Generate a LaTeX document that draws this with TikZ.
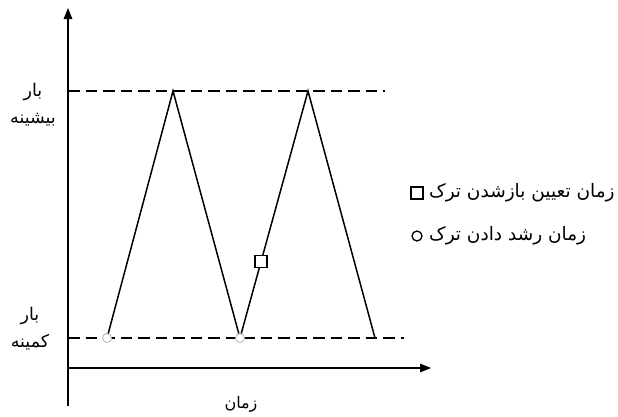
\documentclass[tikz,border=0pt]{standalone}
\usepackage{fontspec}
\TeXXeTstate=1
\newfontfamily\arabicfont[Script=Arabic]{DejaVu Sans}
\usetikzlibrary{arrows.meta,calc}
\tikzset{
  axis/.style={line width=1.6pt,-{Triangle[length=11pt,width=8.5pt]}},
  guide/.style={line width=1.5pt,dash pattern=on 11.5pt off 6pt},
  zig/.style={line width=1.5pt},
  circmark/.style={circle,draw=gray!60,fill=white,line width=0.8pt,inner sep=0pt,minimum size=9pt},
  sqmark/.style={rectangle,draw=black,fill=white,line width=1.3pt,inner sep=0pt,minimum size=12pt},
  lab/.style={font=\arabicfont\fontsize{17.5}{27}\selectfont,align=center,inner sep=1pt},
  leglab/.style={font=\arabicfont\fontsize{18.5}{22}\selectfont,inner sep=1pt,anchor=west},
}
\begin{document}
\begin{tikzpicture}[x=1pt,y=-1pt]
\useasboundingbox (0,0) rectangle (618,416);
% axes
\coordinate (o) at (68,406);
\coordinate (ytop) at (68,8);
\coordinate (hx0) at (68,368);
\coordinate (hx1) at (431,368);
\draw[axis] (o) -- (ytop);
\draw[axis] (hx0) -- (hx1);
% guides
\coordinate (u0) at (68,91);
\coordinate (u1) at (385,91);
\coordinate (l0) at (68,338);
\coordinate (l1) at (404,338);
\draw[guide] (u0) -- (u1);
\draw[guide] (l0) -- (l1);
% zigzag
\coordinate (p1) at (107,338);
\coordinate (p2) at (173,91);
\coordinate (p3) at (240,338);
\coordinate (p4) at (308,91);
\coordinate (p5) at (375,338);
\draw[zig] (p1) -- (p2) -- (p3) -- (p4) -- (p5);
\node[circmark] (c1) at (p1) {};
\node[circmark] (c2) at (p3) {};
\node[sqmark] (s1) at ($(p3)!0.31!(p4)$) {};
% labels
\node[lab] (maxlab) at (33,105) {\beginR بار\endR\\\beginR بیشینه\endR};
\node[lab] (minlab) at (30,329) {\beginR بار\endR\\\beginR کمینه\endR};
\node[lab,font=\arabicfont\fontsize{16}{20}\selectfont] (tlab) at (241,404) {\beginR زمان\endR};
% legend
\node[sqmark] (lsq) at (417,193) {};
\node[circmark,draw=black,minimum size=10pt,line width=1.3pt] (lci) at (417,236) {};
\node[leglab] (lt1) at (428,193) {\beginR زمان تعیین بازشدن ترک\endR};
\node[leglab] (lt2) at (428,236) {\beginR زمان رشد دادن ترک\endR};
\end{tikzpicture}
\end{document}
